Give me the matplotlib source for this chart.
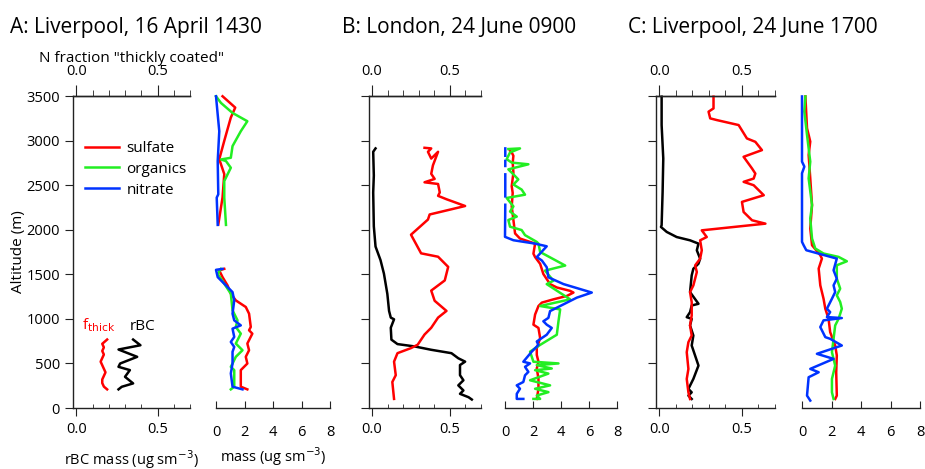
#!/usr/bin/env python3
"""Vertical profiles: f_thick / rBC mass and AMS species mass for three flights."""
import numpy as np
import matplotlib
matplotlib.use("Agg")
import matplotlib.pyplot as plt
from matplotlib.lines import Line2D
from matplotlib.ticker import MultipleLocator, FormatStrFormatter

plt.rcParams['font.family'] = ['Open Sans', 'DejaVu Sans']

RED, GREEN, BLUE, BLACK = "#ff0000", "#22ee22", "#0033ff", "#000000"
nan = np.nan

# ---------------- A: Liverpool, 16 April 1430 ----------------
a_fthick_alt = [768, 720, 680, 640, 600, 560, 520, 480, 440, 400, 360, 320, 280, 240, 209]
a_fthick = [0.19, 0.16, 0.17, 0.16, 0.17, 0.16, 0.15, 0.16, 0.17, 0.18, 0.17, 0.16, 0.16, 0.17, 0.19]
a_rbc_alt = [768, 704, 656, 574, 499, 462, 425, 350, 276, 238, 209]
a_rbc = [0.35, 0.395, 0.26, 0.375, 0.27, 0.26, 0.33, 0.30, 0.35, 0.28, 0.26]

a_so4_alt = [3497, 3370, 3258, 2997, 2791, 2624, 2363, 2057, nan,
             1561, 1543, 1468, 1375, 1282, 1207, 1133, 1058, 909, 872, 834, 723, 648, 574, 499, 425, 239, 209]
a_so4 = [0.46, 1.35, 1.04, 0.58, 0.23, 0.58, 0.46, 0.16, nan,
         0.58, 0.23, 0.46, 0.81, 1.04, 1.39, 2.09, 2.32, 2.44, 2.32, 2.55, 2.2, 2.32, 2.09, 2.2, 1.74, 1.74, 2.2]
a_org_alt = [3497, 3422, 3310, 3217, 3105, 2938, 2807, 2788, 2770, 2695, 2546, 2360, 2054, nan,
             1561, 1505, 1394, 1282, 1096, 983, 909, 834, 723, 648, 574, 499, 462, 425, 239, 209]
a_org = [0.0, 0.35, 1.16, 2.2, 1.74, 1.16, 1.04, 0.35, 0.7, 1.04, 0.58, 0.58, 0.7, nan,
         0.35, 0.12, 0.58, 1.04, 1.16, 1.51, 1.39, 1.74, 1.39, 1.86, 1.39, 1.16, 1.04, 1.28, 1.28, 1.04]
a_no3_alt = [3497, 3291, 3105, 2770, 2397, 2360, 2054, nan,
             1561, 1550, 1468, 1375, 1300, 1207, 1058, 983, 927, 890, 797, 741, 685, 630, 499, 388, 239, 209]
a_no3 = [0.0, 0.12, 0.23, 0.12, 0.16, 0.05, 0.12, nan,
         0.46, 0.0, 0.12, 0.70, 1.16, 1.28, 1.16, 1.28, 1.74, 1.16, 1.28, 1.04, 1.28, 1.16, 1.16, 1.04, 1.16, 1.86]

# ---------------- B: London, 24 June 0900 ----------------
b_rbc_alt = [2912, 2874, 2608, 2418, 2038, 1811, 1659, 1507, 1279, 1089, 1014, 995, 900, 767, 717, 691, 653,
             615, 558, 520, 482, 368, 311, 254, 197, 159, 121, 95]
b_rbc = [0.022, 0.007, 0.011, 0.007, 0.011, 0.022, 0.054, 0.076, 0.098, 0.109, 0.12, 0.141, 0.12, 0.124, 0.163,
         0.272, 0.38, 0.51, 0.554, 0.598, 0.565, 0.565, 0.587, 0.554, 0.587, 0.565, 0.62, 0.641]
b_fthick_alt = [2919, 2912, 2874, 2798, 2874, 2722, 2627, 2570, 2532, 2513, 2418, 2380, 2342, 2266, 2171, 2114,
                1944, 1735, 1697, 1583, 1431, 1317, 1203, 1089, 1014, 900, 824, 710, 672, 615, 520, 368, 292, 102]
b_fthick = [0.337, 0.38, 0.359, 0.38, 0.424, 0.391, 0.38, 0.402, 0.337, 0.424, 0.435, 0.424, 0.478, 0.598, 0.37,
            0.359, 0.25, 0.315, 0.424, 0.489, 0.467, 0.38, 0.402, 0.478, 0.424, 0.38, 0.337, 0.293, 0.25, 0.163,
            0.141, 0.152, 0.13, 0.141]

b_so4_alt = [2886, 2867, 2829, 2753, 2640, 2488, 2412, 2261, 2109, 1958, 1901, 1863, 1844, 1731, 1693, 1617,
             1503, 1390, 1352, 1314, 1295, 1257, 1219, 1182, 1144, 1049, 935, 898, 784, 670, 595, 519, 443,
             329, 216, 102]
b_so4 = [0.36, 0.48, 0.6, 0.55, 0.6, 0.48, 0.55, 0.48, 0.6, 0.72, 1.07, 1.79, 2.15, 2.03, 2.15, 2.51, 2.74,
         3.22, 3.7, 4.65, 4.89, 4.42, 3.46, 2.63, 2.39, 2.15, 2.03, 2.39, 2.51, 2.27, 2.27, 2.39, 2.27, 2.39,
         2.39, 2.27]
b_org_alt = [2905, 2912, 2867, 2791, 2753, 2734, 2677, 2621, 2564, 2507, 2450, 2393, 2356, 2261, 2204, 2147,
             2109, 2034, 1996, 1939, 1863, 1844, 1750, 1598, 1541, 1428, 1390, 1219, 1144, 1106, 973, 822, 708,
             670, 632, 519, 500, 481, 443, 424, 386, 311, 254, 216, 178, 140, 102, 102]
b_org = [0.24, 1.07, 0.36, 0.12, 0.48, 1.67, 0.24, 0.6, 0.95, 0.6, 1.19, 1.43, 0.12, 0.6, 0.36, 0.84, 0.24,
         0.36, 1.19, 1.43, 2.27, 2.39, 2.51, 4.3, 2.86, 3.46, 2.98, 4.65, 2.51, 3.94, 3.82, 3.7, 2.51, 2.15,
         1.79, 2.03, 3.82, 2.27, 3.34, 2.15, 3.1, 1.79, 3.22, 2.15, 3.1, 2.27, 2.51, 2.03]
b_no3_alt = [2912, 2830, nan, 2772, 2715, nan, 2621, 2374, nan, 2280, 1920, 1882, 1844, 1814, 1693, 1655,
             1579, 1466, 1390, 1295, 1238, 1163, 1087, 1011, 973, 935, 898, 822, 746, 708, 632, 519, 500, 462,
             405, 367, 292, 254, 216, 159, 102, 102]
b_no3 = [0.02, 0.02, nan, 0.02, 0.02, nan, 0.02, 0.02, nan, 0.02, 0.0, 0.6, 2.15, 2.98, 2.27, 2.63, 2.98,
         3.1, 4.18, 6.2, 5.13, 4.18, 3.22, 3.1, 2.74, 2.98, 3.34, 2.98, 2.27, 2.39, 1.91, 1.31, 1.79, 1.43,
         1.67, 1.43, 1.31, 0.84, 1.07, 0.84, 0.84, 1.31]

# ---------------- C: Liverpool, 24 June 1700 ----------------
c_rbc_alt = [3492, 3174, 2799, 2424, 2050, 2031, 1975, 1918, 1881, 1844, 1769, 1675, 1619, 1562, 1488, 1300,
             1169, 1150, 1075, 1019, 1000, 926, 813, 701, 476, 326, 214, 176, 139, 101]
c_rbc = [0.014, 0.014, 0.024, 0.02, 0.014, 0.01, 0.045, 0.105, 0.186, 0.237, 0.227, 0.247, 0.237, 0.206,
         0.196, 0.186, 0.237, 0.196, 0.186, 0.166, 0.196, 0.186, 0.206, 0.196, 0.237, 0.206, 0.176, 0.196,
         0.176, 0.196]
c_fthick_alt = [3492, 3361, 3324, 3249, 3230, 3174, 3024, 2986, 2893, 2818, 2687, 2630, 2574, 2537, 2499,
                2387, 2312, 2199, 2106, 2068, 1993, 1918, 1881, 1769, 1675, 1600, 1525, 1375, 1300, 1188, 1038,
                926, 813, 738, 626, 438, 326, 176, 101]
c_fthick = [0.328, 0.328, 0.298, 0.308, 0.348, 0.48, 0.53, 0.581, 0.621, 0.51, 0.561, 0.581, 0.571, 0.51,
            0.571, 0.632, 0.5, 0.51, 0.561, 0.642, 0.257, 0.287, 0.247, 0.257, 0.247, 0.217, 0.227, 0.206,
            0.186, 0.196, 0.196, 0.186, 0.196, 0.176, 0.166, 0.176, 0.166, 0.176, 0.186]

c_so4_alt = [3495, 3139, 2989, 2839, 2576, 2276, 2014, 1826, 1714, 1676, 1564, 1376, 1226, 1114, 1001, 851,
             701, 589, 401, 139, 101]
c_so4 = [0.23, 0.34, 0.56, 0.45, 0.56, 0.68, 0.56, 0.68, 1.24, 1.35, 1.13, 1.24, 1.46, 1.58, 1.8, 1.91, 2.25,
         2.36, 2.32, 2.36, 2.25]
c_org_alt = [3495, 3326, 3064, 2764, 2576, 2276, 2126, 1901, 1789, 1733, 1695, 1646, 1601, 1451, 1339, 1264,
             1189, 1114, 1001, 926, 776, 626, 476, 326, 176, 101]
c_org = [0.23, 0.16, 0.34, 0.56, 0.45, 0.68, 0.56, 0.68, 0.9, 1.46, 2.48, 3.04, 2.36, 2.36, 2.59, 2.36, 2.59,
         2.7, 2.48, 2.25, 2.14, 2.03, 2.25, 2.03, 2.03, 2.14]
c_no3_alt = [3495, 2764, 2708, 2633, 1864, 1826, 1770, 1676, 1545, 1451, 1376, 1301, 1226, 1114, 1076, 1020,
             1009, 983, 908, 795, 776, 701, 608, 551, 439, 401, 345, 139, 83]
c_no3 = [0.0, 0.0, 0.16, 0.0, 0.0, 0.11, 0.29, 2.36, 2.14, 2.36, 2.14, 2.25, 2.03, 1.69, 1.91, 1.69, 2.7,
         1.46, 1.24, 1.58, 1.91, 2.7, 1.01, 2.14, 0.56, 1.13, 0.45, 0.34, 0.56]

TITLES = ["A: Liverpool, 16 April 1430", "B: London, 24 June 0900", "C: Liverpool, 24 June 1700"]
TITLE_X = [10, 342, 628]
FRAC_AX = [(73, 117), (369, 112), (656, 119)]   # left px, width px
MASS_AX = [(216, 114), (505, 112), (802, 118)]

W, H = 925, 469
fig = plt.figure(figsize=(W / 100, H / 100), dpi=100)
BOT, TOP = 408, 96
LW = 1.8
FS = 10.5
TC = "#222222"


def frac_axes(left, width, show_y):
    ax = fig.add_axes([left / W, 1 - BOT / H, width / W, (BOT - TOP) / H])
    ax.set_xlim(-0.02, 0.7)
    ax.set_ylim(0, 3500)
    ax.spines["right"].set_visible(False)
    for s in ax.spines.values():
        s.set_linewidth(1.0)
        s.set_color(TC)
    ax.yaxis.set_major_locator(MultipleLocator(500))
    ax.tick_params(axis="y", direction="out", length=6, labelsize=FS, labelleft=show_y, color=TC)
    ax.set_xticks([0, 0.5])
    ax.xaxis.set_major_formatter(FormatStrFormatter("%.1f"))
    ax.xaxis.set_minor_locator(MultipleLocator(0.1))
    ax.tick_params(axis="x", which="major", direction="out", length=6, labelsize=FS, pad=4, color=TC)
    ax.tick_params(axis="x", which="minor", direction="in", length=3, color=TC)
    sec = ax.secondary_xaxis("top")
    sec.set_xticks([0, 0.5])
    sec.xaxis.set_major_formatter(FormatStrFormatter("%.1f"))
    sec.xaxis.set_minor_locator(MultipleLocator(0.1))
    sec.tick_params(which="major", direction="out", length=8, labelsize=FS, pad=4, color=TC)
    sec.tick_params(which="minor", direction="out", length=4, color=TC)
    sec.spines["top"].set_linewidth(1.0)
    sec.spines["top"].set_color(TC)
    return ax, sec


def mass_axes(left, width):
    ax = fig.add_axes([left / W, 1 - BOT / H, width / W, (BOT - TOP) / H])
    ax.set_xlim(0, 8)
    ax.set_ylim(0, 3500)
    for k in ["left", "right", "top"]:
        ax.spines[k].set_visible(False)
    ax.spines["bottom"].set_linewidth(1.0)
    ax.spines["bottom"].set_color(TC)
    ax.set_yticks([])
    ax.set_xticks([0, 2, 4, 6, 8])
    ax.tick_params(axis="x", direction="in", length=5, labelsize=FS, pad=12, color=TC)
    ax.patch.set_visible(False)
    return ax


frac_data = [(a_fthick, a_fthick_alt, a_rbc, a_rbc_alt),
             (b_fthick, b_fthick_alt, b_rbc, b_rbc_alt),
             (c_fthick, c_fthick_alt, c_rbc, c_rbc_alt)]
mass_data = [(a_so4, a_so4_alt, a_org, a_org_alt, a_no3, a_no3_alt),
             (b_so4, b_so4_alt, b_org, b_org_alt, b_no3, b_no3_alt),
             (c_so4, c_so4_alt, c_org, c_org_alt, c_no3, c_no3_alt)]

frac_axs = []
for i in range(3):
    ax, sec = frac_axes(*FRAC_AX[i], show_y=(i == 0))
    fth, fth_alt, rbc, rbc_alt = frac_data[i]
    ax.plot(rbc, rbc_alt, color=BLACK, lw=LW, clip_on=False)
    ax.plot(fth, fth_alt, color=RED, lw=LW, clip_on=False)
    frac_axs.append((ax, sec))

    mx = mass_axes(*MASS_AX[i])
    so4, so4_alt, org, org_alt, no3, no3_alt = mass_data[i]
    mx.plot(so4, so4_alt, color=RED, lw=LW, clip_on=False)
    mx.plot(org, org_alt, color=GREEN, lw=LW, clip_on=False)
    mx.plot(no3, no3_alt, color=BLUE, lw=LW, clip_on=False)
    if i == 0:
        mx.set_xlabel("mass (ug sm$^{-3}$)", fontsize=FS, labelpad=4)

    fig.text(TITLE_X[i] / W, 1 - 33 / H, TITLES[i], fontsize=15, va="baseline", ha="left")

axA, secA = frac_axs[0]
axA.set_ylabel("Altitude (m)", fontsize=FS + 0.5, labelpad=0)
axA.set_xlabel("rBC mass (ug sm$^{-3}$)", fontsize=FS, labelpad=8)
secA.set_xlabel('N fraction "thickly coated"', fontsize=FS + 0.5, labelpad=2)
axA.text(0.035, 880, r"f$_\mathrm{thick}$", color=RED, fontsize=FS + 0.5, va="baseline", ha="left")
axA.text(0.33, 880, "rBC", color=BLACK, fontsize=FS + 0.5, va="baseline", ha="left")

handles = [Line2D([], [], color=RED, lw=LW), Line2D([], [], color=GREEN, lw=LW), Line2D([], [], color=BLUE, lw=LW)]
fig.legend(handles, ["sulfate", "organics", "nitrate"], loc="upper left",
           bbox_to_anchor=(85 / W, 1 - 141 / H), bbox_transform=fig.transFigure,
           frameon=False, fontsize=FS + 0.5, handlelength=2.2, handletextpad=0.5,
           labelspacing=0.38, borderpad=0, borderaxespad=0)

fig.savefig("out.png", dpi=100)
print("[ok] out.png")
